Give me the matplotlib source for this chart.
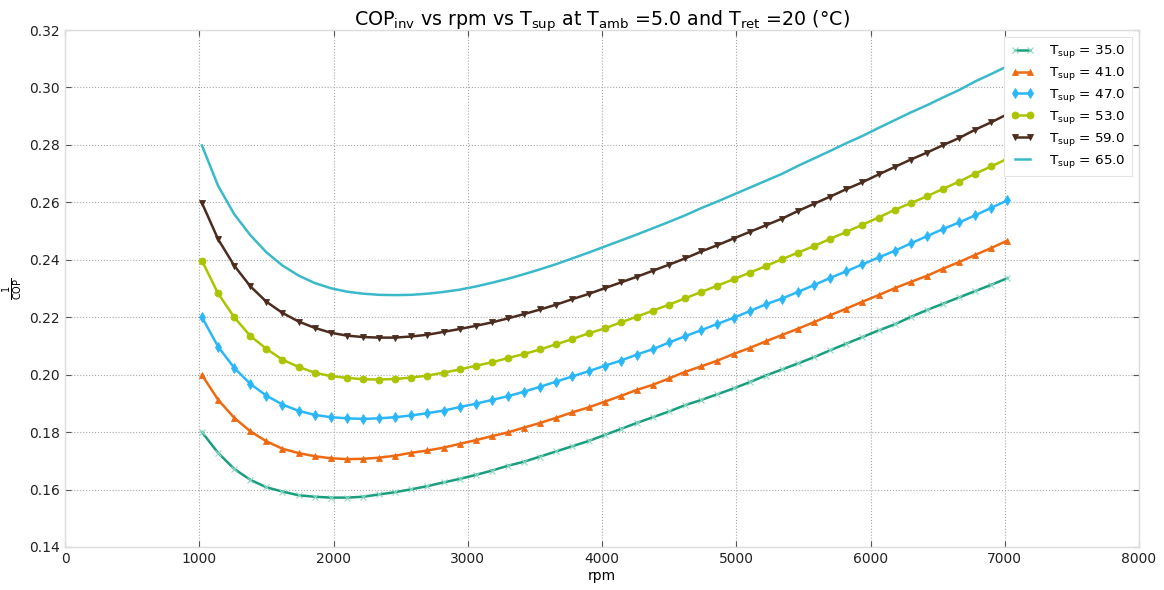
import numpy as np
import matplotlib
matplotlib.use("Agg")
import matplotlib.pyplot as plt

# Compressor speed sweep (rpm)
rpm = np.arange(1020, 7021, 120)

t_sup = [35.0, 41.0, 47.0, 53.0, 59.0, 65.0]

inv_cop_35 = [0.1800, 0.1728, 0.1672, 0.1634, 0.1608, 0.1593, 0.1580, 0.1575, 0.1572, 0.1572,
              0.1575, 0.1583, 0.1591, 0.1601, 0.1612, 0.1625, 0.1637, 0.1651, 0.1666, 0.1683,
              0.1697, 0.1715, 0.1733, 0.1751, 0.1769, 0.1790, 0.1811, 0.1832, 0.1852, 0.1872,
              0.1894, 0.1912, 0.1932, 0.1952, 0.1974, 0.1997, 0.2018, 0.2039, 0.2061, 0.2085,
              0.2108, 0.2131, 0.2154, 0.2175, 0.2201, 0.2225, 0.2247, 0.2269, 0.2291, 0.2313,
              0.2336]
inv_cop_41 = [0.1999, 0.1913, 0.1850, 0.1803, 0.1768, 0.1742, 0.1727, 0.1716, 0.1709, 0.1706,
              0.1707, 0.1711, 0.1718, 0.1728, 0.1736, 0.1746, 0.1759, 0.1772, 0.1786, 0.1799,
              0.1816, 0.1832, 0.1850, 0.1869, 0.1886, 0.1906, 0.1926, 0.1947, 0.1965, 0.1987,
              0.2010, 0.2029, 0.2049, 0.2072, 0.2093, 0.2116, 0.2138, 0.2160, 0.2183, 0.2207,
              0.2230, 0.2254, 0.2277, 0.2301, 0.2323, 0.2344, 0.2369, 0.2392, 0.2417, 0.2441,
              0.2467]
inv_cop_47 = [0.2200, 0.2098, 0.2024, 0.1968, 0.1927, 0.1896, 0.1874, 0.1860, 0.1852, 0.1848,
              0.1846, 0.1848, 0.1852, 0.1858, 0.1866, 0.1875, 0.1887, 0.1899, 0.1912, 0.1925,
              0.1941, 0.1958, 0.1976, 0.1994, 0.2012, 0.2031, 0.2049, 0.2070, 0.2089, 0.2112,
              0.2134, 0.2155, 0.2177, 0.2198, 0.2221, 0.2245, 0.2265, 0.2288, 0.2312, 0.2337,
              0.2360, 0.2384, 0.2408, 0.2431, 0.2457, 0.2482, 0.2507, 0.2530, 0.2555, 0.2581,
              0.2607]
inv_cop_53 = [0.2397, 0.2283, 0.2200, 0.2135, 0.2090, 0.2052, 0.2027, 0.2007, 0.1995, 0.1989,
              0.1984, 0.1983, 0.1985, 0.1990, 0.1997, 0.2007, 0.2018, 0.2031, 0.2043, 0.2058,
              0.2072, 0.2088, 0.2106, 0.2124, 0.2144, 0.2161, 0.2182, 0.2202, 0.2223, 0.2244,
              0.2266, 0.2288, 0.2310, 0.2332, 0.2355, 0.2378, 0.2402, 0.2425, 0.2448, 0.2473,
              0.2497, 0.2522, 0.2547, 0.2574, 0.2597, 0.2621, 0.2647, 0.2672, 0.2700, 0.2725,
              0.2752]
inv_cop_59 = [0.2598, 0.2472, 0.2380, 0.2308, 0.2254, 0.2215, 0.2185, 0.2163, 0.2146, 0.2136,
              0.2131, 0.2129, 0.2129, 0.2133, 0.2139, 0.2149, 0.2159, 0.2170, 0.2182, 0.2196,
              0.2211, 0.2227, 0.2244, 0.2263, 0.2281, 0.2301, 0.2321, 0.2341, 0.2362, 0.2383,
              0.2405, 0.2429, 0.2451, 0.2474, 0.2497, 0.2520, 0.2543, 0.2570, 0.2595, 0.2620,
              0.2646, 0.2670, 0.2697, 0.2723, 0.2749, 0.2773, 0.2799, 0.2824, 0.2853, 0.2879,
              0.2907]
inv_cop_65 = [0.2798, 0.2658, 0.2559, 0.2486, 0.2426, 0.2380, 0.2345, 0.2319, 0.2301, 0.2289,
              0.2282, 0.2278, 0.2277, 0.2278, 0.2282, 0.2288, 0.2296, 0.2307, 0.2320, 0.2334,
              0.2350, 0.2367, 0.2385, 0.2405, 0.2425, 0.2446, 0.2467, 0.2488, 0.2510, 0.2532,
              0.2555, 0.2580, 0.2603, 0.2627, 0.2651, 0.2675, 0.2699, 0.2727, 0.2753, 0.2779,
              0.2806, 0.2831, 0.2859, 0.2886, 0.2913, 0.2938, 0.2965, 0.2991, 0.3021, 0.3047,
              0.3074]

series = [inv_cop_35, inv_cop_41, inv_cop_47, inv_cop_53, inv_cop_59, inv_cop_65]
colors = ["#1a9e80", "#ee6a12", "#2bb7f7", "#abc400", "#4b2c1e", "#3ab9c9"]
markers = ["x", "^", "d", "o", "v", None]

x_ticks = list(range(0, 8001, 1000))
y_ticks = [0.14, 0.16, 0.18, 0.20, 0.22, 0.24, 0.26, 0.28, 0.30, 0.32]

fig = plt.figure(figsize=(11.64, 5.90), dpi=100)
ax = fig.add_axes([65 / 1164, 1 - 547 / 590, (1139 - 65) / 1164, (547 - 30) / 590])

for temp, vals, col, mk in zip(t_sup, series, colors, markers):
    kw = dict(color=col, linewidth=1.8, label=r"T$_{\mathrm{sup}}$ = %.1f" % temp)
    if mk is not None:
        kw.update(marker=mk, markersize=5, markeredgewidth=0.6)
        if mk == "x":
            kw.update(markeredgecolor="#8fd9c3", markersize=5, markeredgewidth=0.8)
        else:
            kw.update(markeredgecolor=col)
    ax.plot(rpm, vals, **kw)

ax.set_xlim(0, 8000)
ax.set_ylim(0.14, 0.32)
ax.set_xticks(x_ticks)
ax.set_yticks(y_ticks)
ax.set_yticklabels(["%.2f" % t for t in y_ticks])

ax.grid(True, linestyle=":", color="#a8a8a8", linewidth=0.8)
ax.tick_params(direction="in", length=4, width=0.8, color="#555555", labelsize=10,
               top=True, right=True, labelcolor="#222222")
for side in ax.spines:
    ax.spines[side].set_color("#dddddd")
    ax.spines[side].set_linewidth(1.0)

ax.set_xlabel("rpm", fontsize=10, labelpad=2)
ax.set_ylabel(r"$\frac{1}{\mathrm{COP}}$", fontsize=10, labelpad=3)
ax.set_title(r"COP$_{\mathrm{inv}}$ vs rpm vs T$_{\mathrm{sup}}$ at T$_{\mathrm{amb}}$ =5.0 and "
             r"T$_{\mathrm{ret}}$ =20 ($\degree$C)", fontsize=13.7, pad=3)

leg = ax.legend(loc="upper right", fontsize=9.7, numpoints=2, handlelength=1.7,
                borderpad=0.5, labelspacing=0.36, handletextpad=1.1,
                fancybox=False, framealpha=1.0, edgecolor="#e4e4e4",
                borderaxespad=0.5)
leg.get_frame().set_linewidth(0.8)

fig.savefig("out.png", dpi=100)
